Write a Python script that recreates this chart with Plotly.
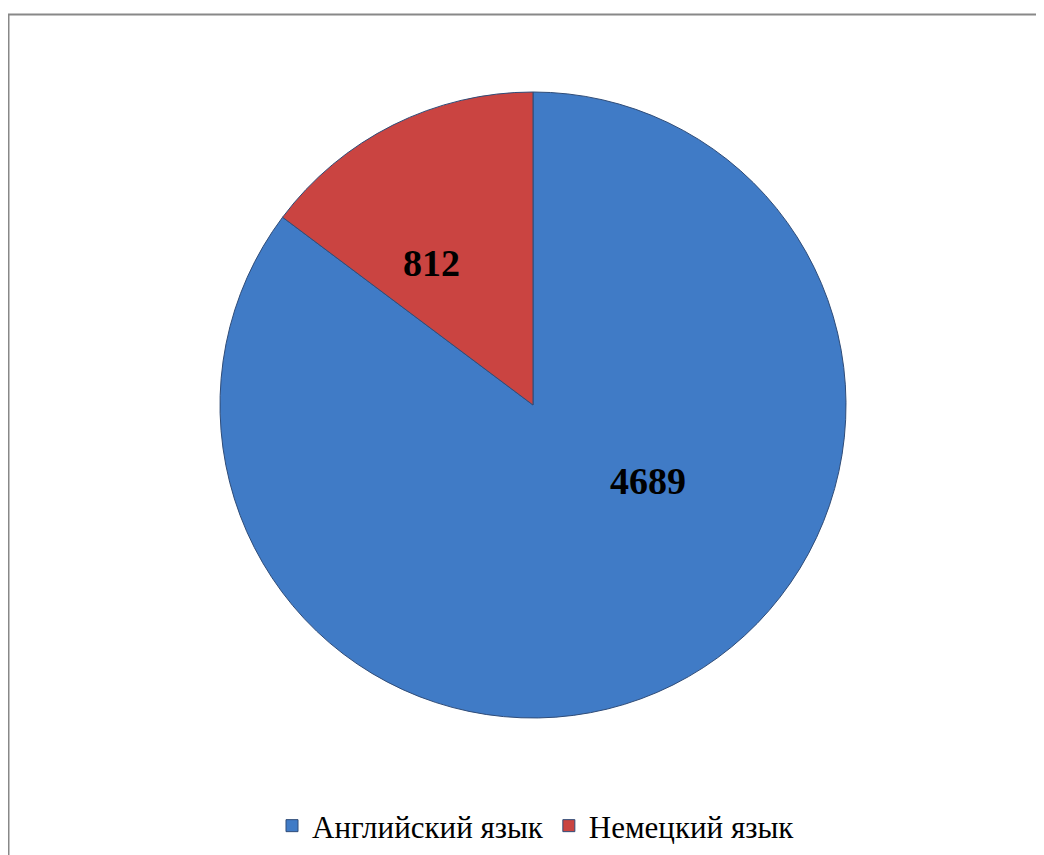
import math
import plotly.graph_objects as go

labels = ["Английский язык", "Немецкий язык"]
values = [4689, 812]
colors = ["#407BC6", "#CA4441"]

W, H = 1044, 855
OFF = 8  # page body margin of the browser
cx, cy, r = 533 - OFF, 405 - OFF, 313

# label placement (angle offset in degrees from slice midpoint, radius fraction)
label_pos = [(-30, 0.44), (-5, 0.62)]

fig = go.Figure(go.Pie(
    labels=labels,
    values=values,
    sort=False,
    direction="clockwise",
    rotation=0,
    marker=dict(colors=colors, line=dict(color="#2f4c78", width=1)),
    textinfo="none",
    domain=dict(x=[(cx - r) / W, (cx + r) / W], y=[1 - (cy + r) / H, 1 - (cy - r) / H]),
    hoverinfo="label+value",
))

total = sum(values)
start = 0.0
for v, (dang, frac) in zip(values, label_pos):
    mid = start + v / total * 360 / 2 + dang
    start += v / total * 360
    a = math.radians(mid)
    px = cx + math.sin(a) * r * frac
    py = cy - math.cos(a) * r * frac
    fig.add_annotation(x=px / W, y=1 - py / H, xref="paper", yref="paper",
                       text=f"<b>{v}</b>", showarrow=False,
                       font=dict(family="Liberation Serif", size=38, color="black"))

fig.add_shape(type="rect", xref="paper", yref="paper",
              x0=0.5 / W, x1=1.05, y0=-0.05, y1=1 - 6.5 / H,
              line=dict(color="#888888", width=2), fillcolor="rgba(0,0,0,0)", layer="below")

fig.update_layout(
    width=W, height=H,
    margin=dict(l=0, r=0, t=0, b=0),
    font=dict(family="Liberation Serif", color="black"),
    paper_bgcolor="white",
    plot_bgcolor="white",
    showlegend=True,
    legend=dict(orientation="h", x=(536 - OFF) / W, xanchor="center", y=1 - (826 - OFF) / H, yanchor="middle",
                font=dict(family="Liberation Serif", size=31, color="black"),
                itemwidth=30, tracegroupgap=0),
)

fig.write_html("out.html")
